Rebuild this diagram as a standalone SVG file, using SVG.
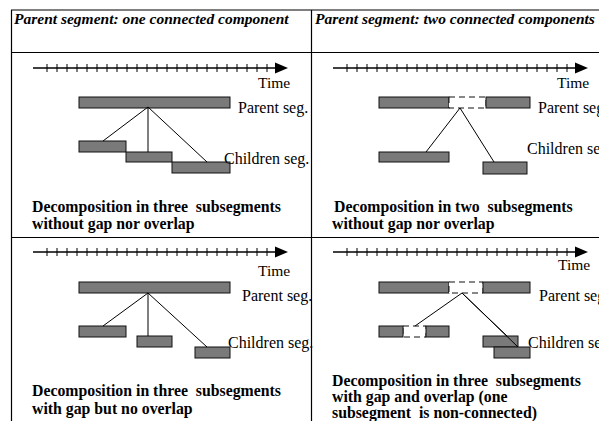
<svg xmlns="http://www.w3.org/2000/svg" width="599" height="421" viewBox="0 0 599 421">
<style>
.grid{stroke:#000;stroke-width:1.2;fill:none}
text{font-family:'Liberation Serif','Times New Roman','DejaVu Serif',serif;fill:#000;white-space:pre}
.hdr{font-weight:bold;font-style:italic;font-size:15.5px}
.lbl{font-size:16px}
.tm{font-size:15.5px}
.cap{font-weight:bold;font-size:15.8px}
.axis{stroke:#000;stroke-width:1.5;fill:none}
.tick{stroke:#000;stroke-width:1}
.bar{fill:#7a7a7a;stroke:#111;stroke-width:1}
.gap{fill:#fff;stroke:#111;stroke-width:1;stroke-dasharray:6 4}
.link{stroke:#000;stroke-width:1;fill:none}
</style>
<defs>
<g id="axis">
<line class="axis" x1="33" y1="0" x2="276" y2="0"/>
<polygon points="275,-5.5 288,0 275,5.5" fill="#000"/>
<path class="tick" d="M47,-4V4M57,-4V4M67,-4V4M77,-4V4M87,-4V4M97,-4V4M107,-4V4M117,-4V4M127,-4V4M137,-4V4M147,-4V4M157,-4V4M167,-4V4M177,-4V4M187,-4V4M197,-4V4M207,-4V4M217,-4V4M227,-4V4M237,-4V4M247,-4V4M257,-4V4M267,-4V4"/>
</g>
</defs>
<rect width="599" height="421" fill="#fff"/>
<g id="table">
<path class="grid" d="M11,10H599M11,52.5H599M11,237.5H599M11.5,10V421M311.5,10V421"/>
<text class="hdr" x="14" y="24">Parent segment: one connected component</text>
<text class="hdr" x="315" y="24">Parent segment: two connected components</text>
</g>
<g id="panel-a">
<use href="#axis" x="0" y="68"/>
<text class="tm" x="258" y="88">Time</text>
<rect class="bar" x="79" y="97" width="151" height="11"/>
<text class="lbl" x="238" y="113">Parent seg.</text>
<rect class="bar" x="79" y="141" width="47" height="11"/>
<rect class="bar" x="126" y="152" width="46" height="10"/>
<rect class="bar" x="172" y="162" width="58" height="11"/>
<text class="lbl" x="224" y="164">Children seg.</text>
<text class="cap" x="32" y="212" xml:space="preserve">Decomposition in three  subsegments</text>
<text class="cap" x="32" y="229">without gap nor overlap</text>
</g>
<g id="panel-b">
<use href="#axis" x="300" y="68"/>
<text class="tm" x="557" y="88">Time</text>
<rect class="bar" x="379" y="97" width="70" height="11"/>
<rect class="gap" x="449" y="97" width="37" height="11"/>
<rect class="bar" x="486" y="97" width="44" height="11"/>
<text class="lbl" x="538" y="113">Parent seg.</text>
<rect class="bar" x="379" y="152" width="70" height="10"/>
<rect class="bar" x="483" y="162" width="44" height="12"/>
<text class="lbl" x="527" y="154">Children seg.</text>
<text class="cap" x="334" y="212" xml:space="preserve">Decomposition in two  subsegments</text>
<text class="cap" x="332" y="229">without gap nor overlap</text>
</g>
<g id="panel-c">
<use href="#axis" x="0" y="252"/>
<text class="tm" x="258" y="276">Time</text>
<rect class="bar" x="79" y="282" width="151" height="11"/>
<text class="lbl" x="242" y="301">Parent seg.</text>
<rect class="bar" x="79" y="326" width="47" height="11"/>
<rect class="bar" x="137" y="336" width="35" height="11"/>
<rect class="bar" x="195" y="347" width="35" height="11"/>
<text class="lbl" x="228" y="348">Children seg.</text>
<text class="cap" x="32" y="396" xml:space="preserve">Decomposition in three  subsegments</text>
<text class="cap" x="32" y="414">with gap but no overlap</text>
</g>
<g id="panel-d">
<use href="#axis" x="300" y="252"/>
<text class="tm" x="558" y="270">Time</text>
<rect class="bar" x="379" y="282" width="70" height="11"/>
<rect class="gap" x="449" y="282" width="34" height="11"/>
<rect class="bar" x="483" y="282" width="47" height="11"/>
<text class="lbl" x="539" y="301">Parent seg.</text>
<rect class="gap" x="403" y="326" width="23" height="11"/>
<rect class="bar" x="379" y="326" width="24" height="11"/>
<rect class="bar" x="426" y="326" width="23" height="11"/>
<rect class="bar" x="483" y="336" width="35" height="11"/>
<rect class="bar" x="494" y="347" width="36" height="11"/>
<text class="lbl" x="528" y="348">Children seg.</text>
<text class="cap" x="332" y="386" xml:space="preserve">Decomposition in three  subsegments</text>
<text class="cap" x="332" y="402">with gap and overlap (one</text>
<text class="cap" x="332" y="418" xml:space="preserve">subsegment  is non-connected)</text>
</g>
<g id="connectors">
<path class="link" d="M148,107L103,141M148,107V152M148,107L207,162"/>
<path class="link" d="M460,108L426,152M460,108L494,162"/>
<path class="link" d="M148,293L103,326M148,293V336M148,293L207,347"/>
<path class="link" d="M462,293L415,326M462,293L507,336M462,293L518,347"/>
</g>
</svg>
